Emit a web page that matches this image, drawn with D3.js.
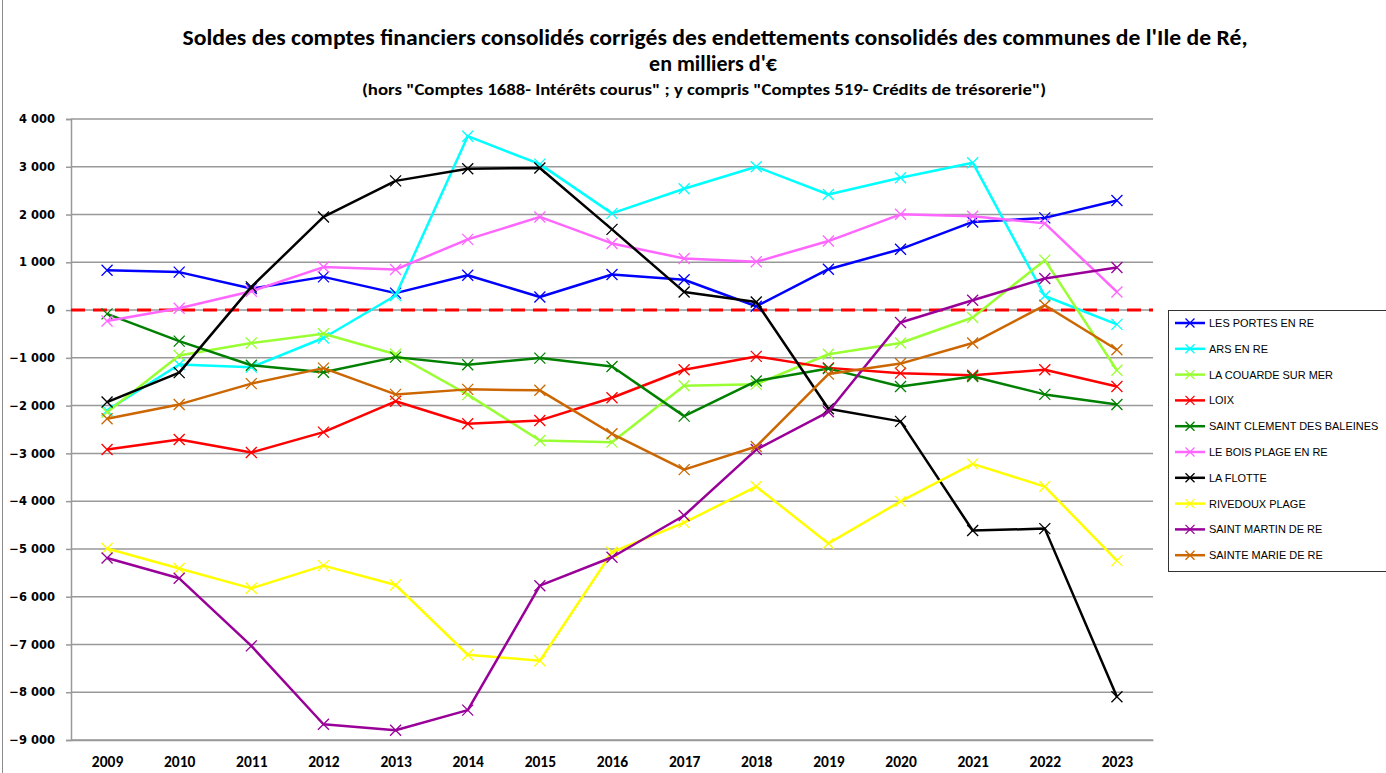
<!doctype html>
<html lang="fr">
<head>
<meta charset="UTF-8">
<title>Soldes des comptes financiers - Ile de Ré</title>
<script src="https://cdn.jsdelivr.net/npm/d3@7"></script>
<style>
  body { margin: 0; background: #fff; }
  svg { display: block; }
</style>
</head>
<body>
<div id="chart"></div>
<script>
// années
var years = [2009, 2010, 2011, 2012, 2013, 2014, 2015, 2016, 2017, 2018, 2019, 2020, 2021, 2022, 2023];

// valeurs en milliers d'euros
var lesPortes   = [835, 795, 450, 695, 355, 730, 275, 745, 635, 80, 855, 1275, 1845, 1930, 2295];
var arsEnRe     = [-2100, -1140, -1195, -585, 305, 3640, 3055, 2025, 2540, 3000, 2420, 2770, 3085, 295, -300];
var laCouarde   = [-2140, -950, -690, -495, -925, -1770, -2730, -2765, -1585, -1555, -925, -690, -155, 1045, -1260];
var loix        = [-2920, -2710, -2980, -2555, -1910, -2380, -2310, -1835, -1250, -970, -1210, -1320, -1365, -1250, -1600];
var saintClem   = [-80, -650, -1155, -1300, -985, -1145, -1005, -1180, -2220, -1485, -1225, -1600, -1390, -1765, -1975];
var leBois      = [-230, 40, 395, 900, 850, 1480, 1950, 1395, 1080, 1010, 1445, 2005, 1965, 1815, 380];
var laFlotte    = [-1925, -1310, 485, 1950, 2705, 2960, 2975, 1690, 380, 170, -2065, -2330, -4615, -4575, -8095];
var rivedoux    = [-4990, -5410, -5825, -5350, -5755, -7215, -7340, -5070, -4450, -3695, -4885, -4005, -3220, -3695, -5245];
var saintMartin = [-5190, -5615, -7030, -8670, -8795, -8375, -5770, -5175, -4300, -2920, -2130, -260, 205, 660, 890];
var sainteMarie = [-2275, -1975, -1540, -1215, -1765, -1660, -1680, -2590, -3340, -2855, -1340, -1120, -690, 100, -830];

var seriesNames  = ["LES PORTES EN RE", "ARS EN RE", "LA COUARDE SUR MER", "LOIX", "SAINT CLEMENT DES BALEINES",
                    "LE BOIS PLAGE EN RE", "LA FLOTTE", "RIVEDOUX PLAGE", "SAINT MARTIN DE RE", "SAINTE MARIE DE RE"];
var seriesValues = [lesPortes, arsEnRe, laCouarde, loix, saintClem, leBois, laFlotte, rivedoux, saintMartin, sainteMarie];
var seriesColors = ["#0000ff", "#00ffff", "#99ff33", "#ff0000", "#008000", "#ff66ff", "#000000", "#ffff00", "#990099", "#cc6600"];

var yTicks = [4000, 3000, 2000, 1000, 0, -1000, -2000, -3000, -4000, -5000, -6000, -7000, -8000, -9000];

var W = 1386, H = 773;
var margin = {top: 119, right: 233, bottom: 33, left: 71};
var width = W - margin.left - margin.right,
    height = H - margin.top - margin.bottom;

var svg = d3.select("#chart").append("svg")
    .attr("width", W)
    .attr("height", H);

// bordure gauche du cadre
svg.append("line")
    .attr("x1", 2.5).attr("x2", 2.5)
    .attr("y1", 0).attr("y2", H)
    .attr("stroke", "#8c8c8c").attr("stroke-width", 1);

// titres
var title = svg.append("g").attr("font-family", "Carlito, 'Liberation Sans Narrow', 'Liberation Sans', sans-serif")
    .attr("font-weight", "bold").attr("text-anchor", "middle").attr("fill", "#000");
title.append("text").attr("x", 715).attr("y", 45).attr("font-size", "22px")
    .attr("textLength", 1065).attr("lengthAdjust", "spacingAndGlyphs")
    .text("Soldes des comptes financiers consolidés corrigés des endettements consolidés des communes de l'Ile de Ré,");
title.append("text").attr("x", 713).attr("y", 71).attr("font-size", "22px")
    .text("en milliers d'€");
title.append("text").attr("x", 704).attr("y", 95).attr("font-size", "16px")
    .attr("textLength", 684).attr("lengthAdjust", "spacingAndGlyphs")
    .text("(hors \"Comptes 1688- Intérêts courus\" ; y compris \"Comptes 519- Crédits de trésorerie\")");

var g = svg.append("g")
    .attr("transform", "translate(" + margin.left + "," + margin.top + ")");

var x = d3.scalePoint()
    .domain(years)
    .range([0, width])
    .padding(0.5);

var y = d3.scaleLinear()
    .domain([-9000, 4000])
    .range([height, 0]);

var fmt = function(d) { return d3.format(",")(d).replace(",", " "); };

// grille horizontale
g.append("g")
    .selectAll("line")
    .data(yTicks)
    .enter().append("line")
    .attr("x1", 0).attr("x2", width)
    .attr("y1", function(d) { return y(d); })
    .attr("y2", function(d) { return y(d); })
    .attr("stroke", "#999")
    .attr("stroke-width", 1.5);

// axe Y
var yAxis = g.append("g")
    .call(d3.axisLeft(y).tickValues(yTicks).tickFormat(fmt).tickSize(5).tickPadding(11));
yAxis.select(".domain").attr("stroke", "#999").attr("stroke-width", 1.5);
yAxis.selectAll(".tick line").attr("stroke", "#999").attr("stroke-width", 1.5);
yAxis.selectAll("text")
    .attr("font-family", "'DejaVu Sans', sans-serif")
    .attr("font-weight", "bold")
    .attr("font-size", "11.5px")
    .attr("fill", "#000");

// axe X
var xAxis = g.append("g")
    .attr("transform", "translate(0," + height + ")")
    .call(d3.axisBottom(x).tickSize(0).tickPadding(16));
xAxis.select(".domain").attr("stroke", "#999").attr("stroke-width", 1.5);
xAxis.selectAll("text")
    .attr("font-family", "Carlito, 'Liberation Sans Narrow', sans-serif")
    .attr("font-weight", "bold")
    .attr("font-size", "15.5px")
    .attr("fill", "#000");

// ligne zéro pointillée
g.append("line")
    .attr("x1", 0).attr("x2", width)
    .attr("y1", y(0)).attr("y2", y(0))
    .attr("stroke", "#ff0000")
    .attr("stroke-width", 3)
    .attr("stroke-dasharray", "14,8");

var line = d3.line()
    .x(function(d, i) { return x(years[i]); })
    .y(function(d) { return y(d); });

function cross(sel, color, cx, cy, r) {
    sel.append("path")
        .attr("d", "M" + (cx - r) + "," + (cy - r) + "L" + (cx + r) + "," + (cy + r) +
                   "M" + (cx - r) + "," + (cy + r) + "L" + (cx + r) + "," + (cy - r))
        .attr("stroke", color)
        .attr("stroke-width", 1.3)
        .attr("fill", "none");
}

// séries
seriesValues.forEach(function(vals, k) {
    var s = g.append("g");
    s.append("path")
        .attr("d", line(vals))
        .attr("fill", "none")
        .attr("stroke", seriesColors[k])
        .attr("stroke-width", 2.5)
        .attr("stroke-linejoin", "round");
    vals.forEach(function(v, i) {
        cross(s, seriesColors[k], x(years[i]), y(v), 5.5);
    });
});

// légende
var leg = svg.append("g").attr("transform", "translate(1168,310)");
leg.append("rect")
    .attr("x", 0.5).attr("y", 0.5)
    .attr("width", 230).attr("height", 261)
    .attr("fill", "#fff")
    .attr("stroke", "#333")
    .attr("stroke-width", 1);
var legTexts = [];
seriesNames.forEach(function(name, k) {
    var ly = 13 + k * 25.8;
    leg.append("line")
        .attr("x1", 7).attr("x2", 37)
        .attr("y1", ly).attr("y2", ly)
        .attr("stroke", seriesColors[k])
        .attr("stroke-width", 2.5);
    cross(leg, seriesColors[k], 22, ly, 4.5);
    legTexts.push(leg.append("text")
        .attr("x", 41).attr("y", ly + 4)
        .attr("font-family", "Arial, 'Liberation Sans', sans-serif")
        .attr("font-size", "11px")
        .attr("fill", "#000")
        .text(name));
});
// ajuste la largeur du texte de la légende (LES PORTES EN RE ~ 105 px)
var ratio = 105 / legTexts[0].node().getComputedTextLength();
legTexts.forEach(function(t) {
    var w = t.node().getComputedTextLength();
    t.attr("textLength", w * ratio).attr("lengthAdjust", "spacingAndGlyphs");
});
</script>
</body>
</html>
